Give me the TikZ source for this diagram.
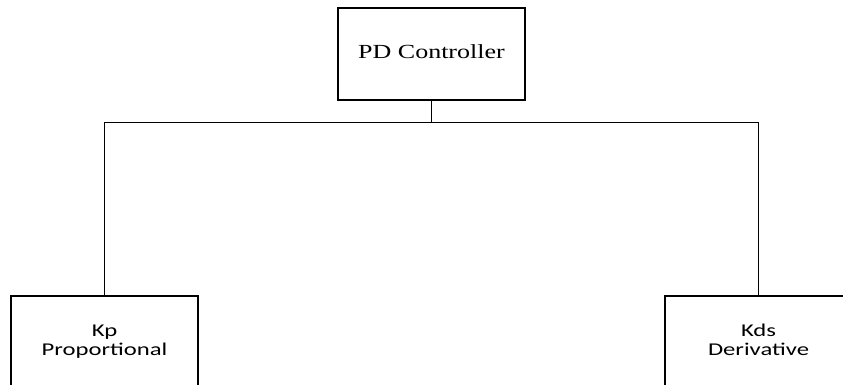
\documentclass[tikz,border=0pt]{standalone}
\usepackage{fontspec}
\setmainfont{Liberation Serif}
\newfontfamily\calfont{Carlito}
\newcommand\topfont{\fontsize{20}{24}\selectfont}
\newcommand\botfont{\calfont\fontsize{18}{19.5}\selectfont}
\newcommand\wtxt[1]{\scalebox{1.3}[1]{\begin{tabular}{@{}c@{}}#1\end{tabular}}}
\newcommand\wtxtb[1]{\scalebox{1.37}[1]{\begin{tabular}{@{}c@{}}#1\end{tabular}}}
\tikzset{
  blk/.style={draw=black, line width=1.7pt, minimum width=187pt, minimum height=92pt, inner sep=0pt},
  conn/.style={draw=black, line width=1.7pt}
}
\begin{document}
\begin{tikzpicture}[x=1pt,y=-1pt]
\useasboundingbox (0,0) rectangle (843,385);
\clip (0,0) rectangle (843,385);
\node[blk, font=\topfont] (pd) at (431.5,54) {\wtxt{PD Controller}};
\node[blk, font=\botfont] (kp) at (104.5,342) {\wtxtb{Kp\\Proportional}};
\node[blk, font=\botfont] (kd) at (758.5,342) {\wtxtb{Kds\\Derivative}};
\coordinate (j) at (431.5,122.5);
\draw[conn] (pd.south) -- (j);
\draw[conn] (kp.north) |- (j) -| (kd.north);
\end{tikzpicture}
\end{document}
